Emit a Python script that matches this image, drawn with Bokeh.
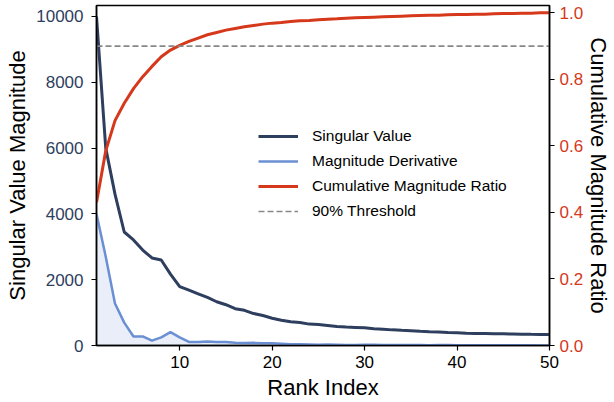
from bokeh.plotting import figure
from bokeh.models import Range1d, LinearAxis, Legend, LegendItem, FixedTicker, PrintfTickFormatter
from bokeh.embed import file_html
from bokeh.resources import INLINE

rank = list(range(1, 51))
singular_values = [10000, 6000, 4600, 3450, 3210, 2900, 2660, 2600, 2170, 1790,
                   1680, 1570, 1460, 1330, 1240, 1120, 1070, 970, 910, 830,
                   770, 720, 700, 650, 640, 610, 580, 560, 550, 537,
                   510, 495, 475, 460, 450, 430, 418, 410, 395, 385,
                   375, 366, 362, 358, 355, 350, 345, 340, 337, 334]
derivative = [4000, 2700, 1275, 695, 275, 275, 150, 245, 405, 245,
              110, 110, 120, 110, 105, 85, 75, 80, 70, 70,
              55, 35, 35, 30, 20, 30, 25, 15, 12, 20,
              21, 18, 18, 12, 15, 16, 10, 12, 12, 10,
              10, 6, 4, 4, 4, 5, 5, 4, 3, 3]
cumulative_ratio = [0.430, 0.585, 0.676, 0.728, 0.772, 0.808, 0.839, 0.868, 0.888, 0.902,
                    0.914, 0.924, 0.934, 0.941, 0.948, 0.953, 0.958, 0.962, 0.966, 0.969,
                    0.971, 0.974, 0.976, 0.977, 0.979, 0.981, 0.982, 0.984, 0.985, 0.986,
                    0.987, 0.988, 0.989, 0.990, 0.991, 0.992, 0.993, 0.993, 0.994, 0.995,
                    0.995, 0.996, 0.996, 0.997, 0.998, 0.998, 0.999, 0.999, 1.000, 1.000]
threshold = 0.9
x_ticks = [10, 20, 30, 40, 50]
left_ticks = [0, 2000, 4000, 6000, 8000, 10000]
right_ticks = [0.0, 0.2, 0.4, 0.6, 0.8, 1.0]

DARK = "#2e3e5e"
LIGHT = "#6b8fd3"
RED = "#d5381a"
FONT = "Liberation Sans"

p = figure(width=614, height=402, output_backend="svg", toolbar_location=None,
           x_range=Range1d(1, 50), y_range=Range1d(0, 10334),
           min_border_left=96, min_border_right=61, min_border_top=5, min_border_bottom=57,
           y_axis_location="left")
p.extra_y_ranges = {"ratio": Range1d(0, 1.022)}
p.xgrid.visible = False
p.ygrid.visible = False
p.outline_line_color = "black"
p.outline_line_width = 1.5
p.outline_line_alpha = 1.0

fill = p.varea(x=rank, y1=[0] * len(rank), y2=derivative, fill_color=LIGHT, fill_alpha=0.15)
l_der = p.line(rank, derivative, line_color=LIGHT, line_width=2.5)
l_sv = p.line(rank, singular_values, line_color=DARK, line_width=3)
l_cum = p.line(rank, cumulative_ratio, line_color=RED, line_width=3, y_range_name="ratio")
l_thr = p.line([rank[0], rank[-1]], [threshold, threshold], line_color="#888888", line_width=1.6,
               line_dash="6 3", y_range_name="ratio")

def style_axis(ax, color, standoff=8, label_standoff=4):
    ax.axis_line_color = "black"
    ax.axis_line_width = 1.5
    ax.major_tick_line_color = "black"
    ax.major_tick_line_width = 1.2
    ax.major_tick_out = 5
    ax.major_tick_in = 0
    ax.minor_tick_out = 0
    ax.minor_tick_in = 0
    ax.major_label_text_font = FONT
    ax.major_label_text_font_size = "17px"
    ax.major_label_text_color = color
    ax.major_label_standoff = standoff
    ax.axis_label_text_font = FONT
    ax.axis_label_text_font_size = "22px"
    ax.axis_label_text_font_style = "normal"
    ax.axis_label_text_color = "black"
    ax.axis_label_standoff = label_standoff

xa = p.xaxis[0]
xa.ticker = FixedTicker(ticks=x_ticks)
xa.axis_label = "Rank Index"
style_axis(xa, "black", standoff=5)

ya = p.yaxis[0]
ya.ticker = FixedTicker(ticks=left_ticks)
ya.axis_label = "Singular Value Magnitude"
style_axis(ya, DARK, standoff=8, label_standoff=3)

ra = LinearAxis(y_range_name="ratio", axis_label="Cumulative Magnitude Ratio")
ra.ticker = FixedTicker(ticks=right_ticks)
ra.formatter = PrintfTickFormatter(format="%.1f")
style_axis(ra, RED, standoff=5, label_standoff=0)
p.add_layout(ra, "right")

legend = Legend(items=[
    LegendItem(label="Singular Value", renderers=[l_sv]),
    LegendItem(label="Magnitude Derivative", renderers=[l_der]),
    LegendItem(label="Cumulative Magnitude Ratio", renderers=[l_cum]),
    LegendItem(label="90% Threshold", renderers=[l_thr]),
], location=(160, 122))
legend.label_text_font = FONT
legend.label_text_font_size = "15.5px"
legend.label_text_color = "black"
legend.glyph_width = 40
legend.glyph_height = 20
legend.spacing = 5
legend.padding = 2
legend.margin = 0
legend.label_standoff = 14
legend.background_fill_alpha = 0
legend.border_line_alpha = 0
p.add_layout(legend, "center")

open("out.html", "w").write(file_html(p, INLINE))
